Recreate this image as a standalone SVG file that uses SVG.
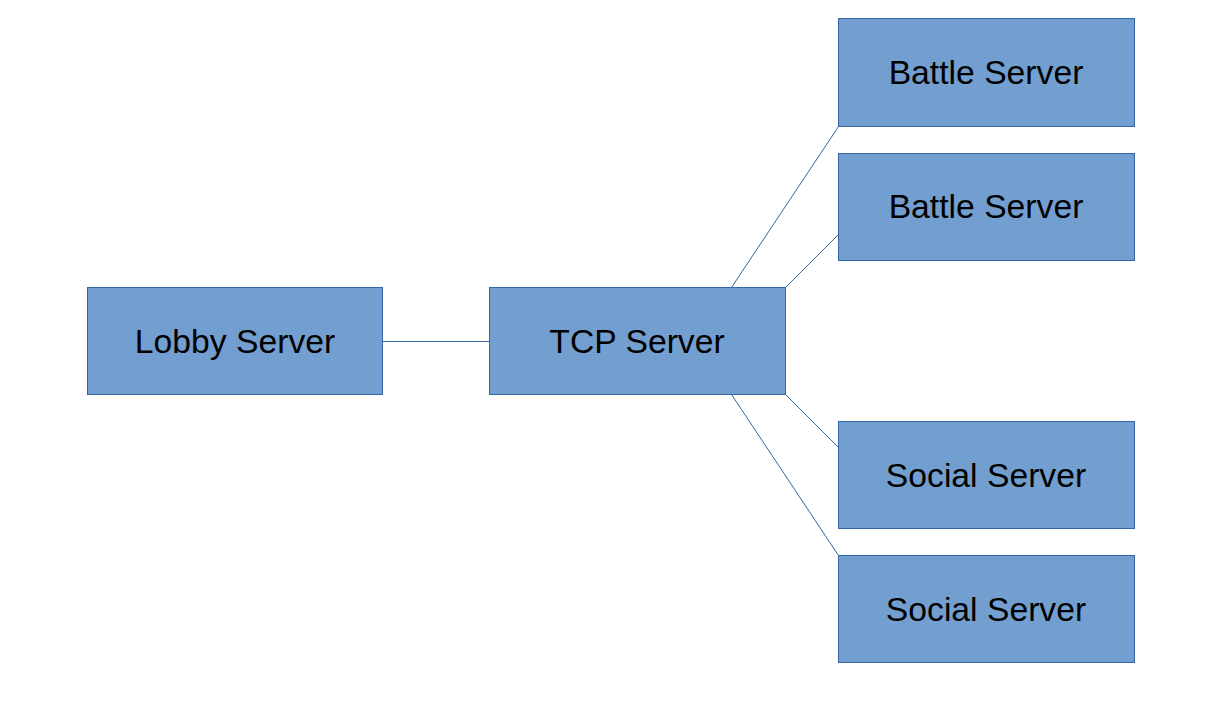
<svg xmlns="http://www.w3.org/2000/svg" width="1229" height="727" viewBox="0 0 1229 727">
<style>
.box{fill:#729fcf;stroke:#3465a4;stroke-width:1}
.lbl{font-family:"Liberation Sans",Arial,sans-serif;font-size:33.7px;fill:#000;text-anchor:middle}
.con{stroke:#3465a4;stroke-width:1;fill:none}
</style>
<rect width="1229" height="727" fill="#fff"/>
<g id="connectors">
<line class="con" x1="382.5" y1="341.5" x2="489.5" y2="341.5"/>
<line class="con" x1="731.5" y1="287.5" x2="838.5" y2="126.5"/>
<line class="con" x1="785.5" y1="287.5" x2="838.5" y2="234.5"/>
<line class="con" x1="785.5" y1="394.5" x2="838.5" y2="447.5"/>
<line class="con" x1="731.5" y1="394.5" x2="838.5" y2="555.5"/>
</g>
<g id="lobby"><rect class="box" x="87.5" y="287.5" width="295" height="107"/><text class="lbl" x="235" y="353">Lobby Server</text></g>
<g id="tcp"><rect class="box" x="489.5" y="287.5" width="296" height="107"/><text class="lbl" x="637" y="353">TCP Server</text></g>
<g id="battle1"><rect class="box" x="838.5" y="18.5" width="296" height="108"/><text class="lbl" x="986" y="84">Battle Server</text></g>
<g id="battle2"><rect class="box" x="838.5" y="153.5" width="296" height="107"/><text class="lbl" x="986" y="218">Battle Server</text></g>
<g id="social1"><rect class="box" x="838.5" y="421.5" width="296" height="107"/><text class="lbl" x="986" y="487">Social Server</text></g>
<g id="social2"><rect class="box" x="838.5" y="555.5" width="296" height="107"/><text class="lbl" x="986" y="621">Social Server</text></g>
</svg>
